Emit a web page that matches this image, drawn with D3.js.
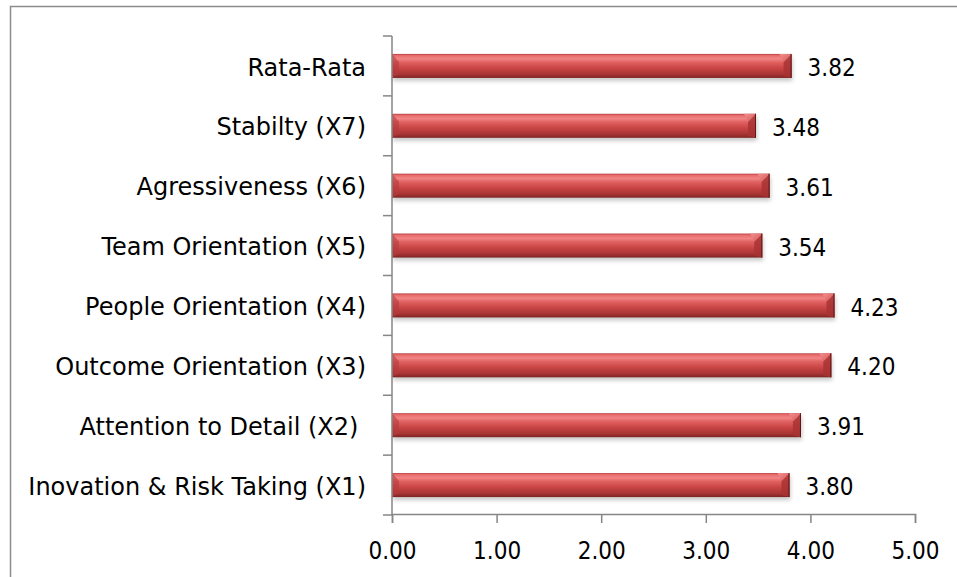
<!DOCTYPE html>
<html>
<head>
<meta charset="utf-8">
<script src="https://cdn.jsdelivr.net/npm/d3@7"></script>
<style>
  html, body { margin: 0; padding: 0; background: #fff; }
  svg { display: block; }
  text { font-family: "DejaVu Sans", sans-serif; fill: #000; white-space: pre; }
  text.num { font-family: "DejaVu Sans Condensed", "DejaVu Sans", sans-serif; font-stretch: condensed; }
</style>
</head>
<body>
<svg id="chart" width="957" height="577"></svg>
<script>
// Category labels, top to bottom
const categories = [
  "Rata-Rata",
  "Stabilty (X7)",
  "Agressiveness (X6)",
  "Team Orientation (X5)",
  "People Orientation (X4)",
  "Outcome Orientation (X3)",
  "Attention to Detail (X2) ",
  "Inovation & Risk Taking (X1)"
];
// Mean scores per category
const values = [3.82, 3.48, 3.61, 3.54, 4.23, 4.20, 3.91, 3.80];
// Value-axis ticks
const xTicks = [0, 1, 2, 3, 4, 5];

const svg = d3.select("#chart");
const plotLeft = 392, plotRight = 915, plotTop = 36, plotBottom = 515;
const fontSize = 24;

// Outer frame (runs off the right and bottom edges)
svg.append("rect")
  .attr("x", 10.5).attr("y", 6.5)
  .attr("width", 960).attr("height", 600)
  .attr("fill", "none").attr("stroke", "#8c8c8c").attr("stroke-width", 1.5);

const x = d3.scaleLinear().domain([0, 5]).range([plotLeft, plotRight]);
const y = d3.scaleBand().domain(categories).range([plotTop, plotBottom]).paddingInner(0).paddingOuter(0);
const barH = 24;

const defs = svg.append("defs");
const body = defs.append("linearGradient").attr("id", "barBody").attr("x1", 0).attr("y1", 0).attr("x2", 0).attr("y2", 1);
[[0, "#b53a3a"], [0.06, "#e86a6a"], [0.2, "#f08585"], [0.35, "#e06060"], [0.6, "#c84444"], [0.85, "#a83434"], [1, "#7e2424"]]
  .forEach(([o, c]) => body.append("stop").attr("offset", o).attr("stop-color", c));
const capTop = defs.append("linearGradient").attr("id", "capTop").attr("x1", 0).attr("y1", 0).attr("x2", 1).attr("y2", 1);
[[0, "#f29090"], [1, "#d65656"]].forEach(([o, c]) => capTop.append("stop").attr("offset", o).attr("stop-color", c));
const shadow = defs.append("filter").attr("id", "shadow").attr("x", "-5%").attr("y", "-50%").attr("width", "110%").attr("height", "200%");
shadow.append("feGaussianBlur").attr("stdDeviation", 2.2);

const bars = svg.append("g").selectAll("g").data(categories).join("g")
  .attr("transform", (d) => `translate(0,${y(d) + y.bandwidth() / 2 - barH / 2})`);

// soft shadow beneath each bar
bars.append("rect")
  .attr("x", plotLeft + 1).attr("y", 3)
  .attr("width", (d, i) => x(values[i]) - plotLeft).attr("height", barH)
  .attr("fill", "#000").attr("opacity", 0.22).attr("filter", "url(#shadow)");

// bar body
bars.append("rect")
  .attr("x", plotLeft).attr("y", 0)
  .attr("width", (d, i) => x(values[i]) - plotLeft).attr("height", barH)
  .attr("fill", "url(#barBody)");

// bevelled right end
const bev = 8;
bars.append("path")
  .attr("d", (d, i) => {
    const xe = x(values[i]);
    return `M${xe - bev},${bev}L${xe},0L${xe},${barH}L${xe - bev},${barH - 2}Z`;
  })
  .attr("fill", "#a83232").attr("opacity", 0.85);
bars.append("path")
  .attr("d", (d, i) => {
    const xe = x(values[i]);
    return `M${xe - bev},${bev}L${xe},0L${xe - bev - 4},0Z`;
  })
  .attr("fill", "url(#capTop)");
// bevelled left end
bars.append("path")
  .attr("d", `M${plotLeft},0L${plotLeft + 7},${bev}L${plotLeft + 7},${barH - 4}L${plotLeft},${barH}Z`)
  .attr("fill", "#b43c3c").attr("opacity", 0.6);
// thin outline on right edge
bars.append("line")
  .attr("x1", (d, i) => x(values[i]) - 0.5).attr("x2", (d, i) => x(values[i]) - 0.5)
  .attr("y1", 0).attr("y2", barH)
  .attr("stroke", "#5a1a1a").attr("stroke-width", 1);

// value labels
bars.append("text").attr("class", "num")
  .attr("x", (d, i) => x(values[i]) + 16)
  .attr("y", barH / 2).attr("dy", "0.42em")
  .attr("font-size", fontSize)
  .text((d, i) => values[i].toFixed(2));

// Category axis
const axisColor = "#868686";
const yAxis = svg.append("g").attr("transform", `translate(${plotLeft},0)`);
yAxis.append("line").attr("x1", 0).attr("x2", 0).attr("y1", plotTop).attr("y2", plotBottom)
  .attr("stroke", axisColor).attr("stroke-width", 1.5);
const bounds = categories.map((c) => y(c)).concat([plotBottom]);
yAxis.selectAll("line.tk").data(bounds).join("line").attr("class", "tk")
  .attr("x1", -9).attr("x2", 0).attr("y1", (d) => d).attr("y2", (d) => d)
  .attr("stroke", axisColor).attr("stroke-width", 1.5);
yAxis.selectAll("text").data(categories).join("text")
  .attr("x", -26).attr("y", (d) => y(d) + y.bandwidth() / 2).attr("dy", "0.4em")
  .attr("text-anchor", "end").attr("font-size", fontSize)
  .text((d) => d);

// Value axis
const xAxis = svg.append("g").attr("transform", `translate(0,${plotBottom - 1})`)
  .call(d3.axisBottom(x).tickValues(xTicks).tickSize(9).tickPadding(19).tickFormat(d3.format(".2f")));
xAxis.select(".domain").attr("stroke", axisColor).attr("stroke-width", 1.5);
xAxis.selectAll(".tick line").attr("stroke", axisColor).attr("stroke-width", 1.5);
xAxis.selectAll(".tick text").attr("class", "num").attr("font-size", fontSize).attr("fill", "#000")
  .attr("font-family", null);
</script>
</body>
</html>
